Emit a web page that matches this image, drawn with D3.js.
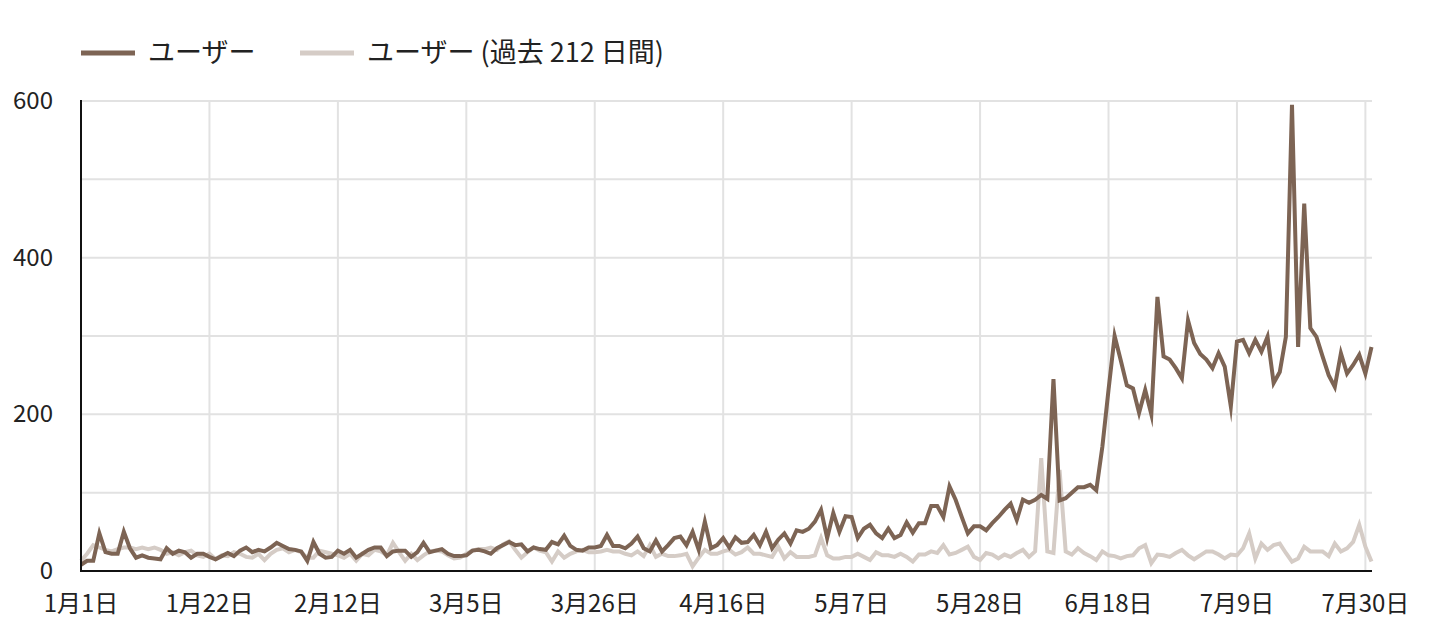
<!DOCTYPE html>
<html><head><meta charset="utf-8">
<script src="https://cdn.jsdelivr.net/npm/d3@7"></script>
<style>
html,body{margin:0;padding:0;background:#fff;}
svg{display:block;font-family:"Noto Sans CJK JP","Noto Sans",sans-serif;}
</style></head>
<body>
<svg id="chart" width="1432" height="634"></svg>
<script>
(function(){
// ---- data ----
const startDate = new Date(2023, 0, 1);
const seriesNames = ["ユーザー", "ユーザー (過去 212 日間)"];
const users = [
  8,13,13,48,24,22,22,50,29,17,
  20,17,16,15,29,22,26,24,17,22,
  22,18,15,19,23,19,26,30,24,27,
  25,30,36,32,28,27,25,13,37,22,
  17,18,26,22,27,17,22,27,30,30,
  19,25,26,26,18,24,36,24,26,28,
  22,19,19,20,26,27,25,22,29,33,
  37,33,34,25,30,28,27,37,34,45,
  32,27,26,30,30,32,46,32,32,29,
  35,44,29,25,39,25,33,42,44,33,
  50,27,63,29,33,42,30,43,36,37,
  46,33,50,29,40,48,35,52,50,54,
  63,78,42,74,50,70,69,42,54,59,
  48,42,54,42,46,62,49,61,61,83,
  83,69,108,91,69,48,57,57,52,61,
  69,78,86,65,91,87,91,97,92,245,
  90,93,100,107,107,110,103,159,231,300,
  269,237,233,202,231,200,350,274,270,259,
  246,320,291,277,270,259,278,261,210,293,
  295,278,295,280,299,240,254,299,595,286,
  469,310,299,274,250,235,278,252,263,276,
  252,286
];
const usersPrev = [
  13,22,33,30,27,25,28,30,30,28,
  30,28,30,27,22,24,20,24,26,20,
  18,22,15,20,19,24,22,18,17,22,
  14,22,27,29,24,27,24,17,17,26,
  24,22,20,17,22,13,22,20,27,25,
  20,36,24,13,22,14,20,25,26,25,
  20,16,17,22,26,28,28,30,27,34,
  38,27,17,24,30,26,24,12,25,17,
  22,25,27,24,24,25,27,25,25,22,
  20,25,19,33,18,22,19,19,20,22,
  6,17,27,22,22,25,27,21,24,30,
  22,22,20,18,31,16,24,18,18,18,
  20,42,20,16,16,18,18,22,18,14,
  24,20,20,18,22,18,12,21,21,25,
  23,33,21,23,27,31,18,14,23,21,
  16,21,18,23,27,18,25,144,25,23,
  129,25,21,29,23,19,14,25,20,19,
  16,19,20,29,33,10,21,20,18,23,
  27,20,15,20,25,25,21,16,21,20,
  29,48,16,35,27,33,35,23,12,16,
  31,25,25,25,19,35,25,29,37,59,
  31,12
];
const xTickLabels = ["1月1日","1月22日","2月12日","3月5日","3月26日","4月16日","5月7日","5月28日","6月18日","7月9日","7月30日"];
const yTickValues = [0,200,400,600];
const yGridValues = [0,100,200,300,400,500,600];

// ---- layout ----
const svg = d3.select("#chart");
const mLeft = 81, mRight = 1372, mTop = 101, mBottom = 571;
const colors = ["#7d6454", "#d5ccc6"];

const dates = users.map((_, i) => d3.timeDay.offset(startDate, i));
const x = d3.scaleTime()
  .domain([dates[0], dates[dates.length - 1]])
  .range([mLeft, 1371.5]);
const y = d3.scaleLinear().domain([0, 600]).range([mBottom, mTop]);
const xTickDates = xTickLabels.map((_, i) => d3.timeDay.offset(startDate, i * 21));

// grid
svg.append("g").selectAll("line").data(yGridValues).join("line")
  .attr("x1", mLeft).attr("x2", mRight)
  .attr("y1", d => y(d)).attr("y2", d => y(d))
  .attr("stroke", "#e2e2e2").attr("stroke-width", 2);
svg.append("g").selectAll("line").data(xTickDates.slice(1)).join("line")
  .attr("x1", d => x(d)).attr("x2", d => x(d))
  .attr("y1", mTop).attr("y2", mBottom)
  .attr("stroke", "#e2e2e2").attr("stroke-width", 2);

// lines
const line = d3.line().x((d, i) => x(dates[i])).y(d => y(d)).curve(d3.curveLinear);
[usersPrev, users].forEach((s, k) => {
  svg.append("path").datum(s)
    .attr("d", line)
    .attr("fill", "none")
    .attr("stroke", k === 0 ? colors[1] : colors[0])
    .attr("stroke-width", 4)
    .attr("stroke-linejoin", "miter")
    .attr("stroke-miterlimit", 10);
});

// axes lines
svg.append("line").attr("x1", mLeft).attr("x2", mLeft).attr("y1", mTop - 1).attr("y2", mBottom + 1)
  .attr("stroke", "#111").attr("stroke-width", 2);
svg.append("line").attr("x1", mLeft - 1).attr("x2", mRight).attr("y1", mBottom).attr("y2", mBottom)
  .attr("stroke", "#111").attr("stroke-width", 2);

// y tick labels
svg.append("g").selectAll("text").data(yTickValues).join("text")
  .attr("x", 53).attr("y", d => y(d) + 8)
  .attr("text-anchor", "end")
  .attr("font-size", 24).attr("fill", "#222")
  .text(d => d);

// x tick labels
svg.append("g").selectAll("text").data(xTickDates).join("text")
  .attr("x", d => x(d)).attr("y", 612)
  .attr("text-anchor", "middle")
  .attr("font-size", 24).attr("fill", "#222")
  .text((d, i) => xTickLabels[i]);

// legend
const legendX = [81, 300];
seriesNames.forEach((name, i) => {
  const g = svg.append("g").attr("transform", `translate(${legendX[i]},53)`);
  g.append("line").attr("x1", 0).attr("x2", 54).attr("y1", 0).attr("y2", 0)
    .attr("stroke", colors[i]).attr("stroke-width", 5);
  g.append("text").attr("x", 67).attr("y", 9)
    .attr("font-size", 27).attr("fill", "#222").text(name);
});
})();
</script>
</body></html>
